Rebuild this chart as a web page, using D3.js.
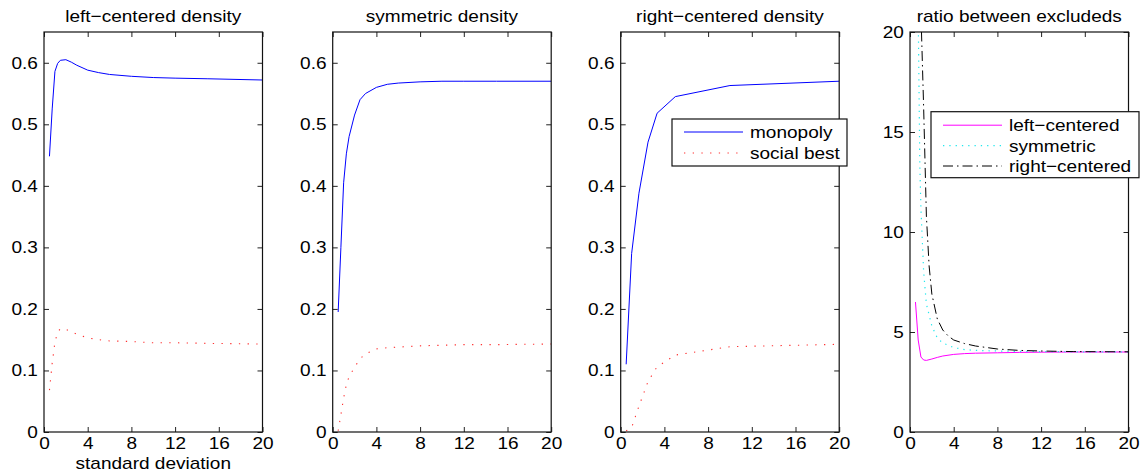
<!DOCTYPE html>
<html>
<head>
<meta charset="utf-8">
<script src="https://cdn.jsdelivr.net/npm/d3@7/dist/d3.min.js"></script>
<style>
	body { margin: 0; background: #fff; }
	text { font-family: "Liberation Sans", Arial, sans-serif; fill: #000; }
</style>
</head>
<body>
<svg id="main_svg"></svg>
<script>
const WIDTH = 1143;
const HEIGHT = 475;
const STRETCH = 1.12;
const FONT = 17;

// values
const panelTitles = ['left\u2212centered density', 'symmetric density', 'right\u2212centered density', 'ratio between excludeds'];
const xTicks = [0, 4, 8, 12, 16, 20];
const densityTicks = [0, 0.1, 0.2, 0.3, 0.4, 0.5, 0.6];
const ratioTicks = [0, 5, 10, 15, 20];

const xGrid = [0.5, 0.75, 1, 1.25, 1.5, 2, 2.5, 3, 4, 5, 6, 8, 10, 12, 15, 20];
const leftMonopoly = [0.448, 0.525, 0.586, 0.599, 0.604, 0.605, 0.601, 0.596, 0.588, 0.584, 0.581, 0.578, 0.576, 0.575, 0.574, 0.572];
const leftSocial = [0.068, 0.112, 0.146, 0.162, 0.168, 0.167, 0.163, 0.159, 0.153, 0.150, 0.148, 0.147, 0.145, 0.145, 0.144, 0.143];
const symMonopoly = [0.195, 0.300, 0.405, 0.452, 0.480, 0.515, 0.540, 0.550, 0.560, 0.565, 0.567, 0.569, 0.570, 0.570, 0.570, 0.570];
const symSocial = [0.002, 0.028, 0.055, 0.077, 0.090, 0.105, 0.119, 0.127, 0.135, 0.137, 0.138, 0.140, 0.141, 0.142, 0.142, 0.143];

const xRight = [0.5, 1, 1.67, 2.5, 3.33, 5, 10, 20];
const rightMonopoly = [0.110, 0.290, 0.388, 0.471, 0.518, 0.545, 0.563, 0.570];
const rightSocial = [0.002, 0.007, 0.042, 0.082, 0.106, 0.125, 0.1386, 0.1425];

const ratioLeft = [6.5, 4.6, 3.75, 3.6, 3.58, 3.65, 3.73, 3.8, 3.88, 3.92, 3.94, 3.96, 3.98, 3.99, 4.0, 4.0];
const xSym = [0.5, 0.75, 0.9, 1, 1.25, 1.5, 2, 2.5, 3, 4, 5, 6, 8, 10, 15, 20];
const ratioSym = [40, 21, 13.3, 11.2, 8.0, 6.4, 5.3, 4.7, 4.45, 4.22, 4.12, 4.08, 4.05, 4.03, 4.01, 4.0];
const xRightRatio = [0.5, 1, 1.25, 1.5, 1.75, 2, 2.5, 3, 3.5, 4, 5, 6, 8, 10, 12, 15, 20];
const ratioRight = [60, 21, 16.2, 10.8, 8.3, 6.9, 5.65, 5.1, 4.8, 4.6, 4.42, 4.3, 4.15, 4.08, 4.05, 4.02, 4.01];

const panelLefts = [44, 332.7, 620.7, 910];
const PANEL_W = 218.5;
const TOP = 32;
const BOTTOM = 432;

const STYLE = {
	monopoly: { color: '#0000ff', dash: null, width: 1 },
	social: { color: '#ff3030', dash: '1.3,7.4', width: 1.1 },
	left: { color: '#ff00ff', dash: null, width: 1 },
	sym: { color: '#22e8ee', dash: '1.3,5', width: 1.2 },
	right: { color: '#000000', dash: '10,4,1.5,4', width: 1 }
};

const zip = (xs, ys) => xs.map((x, i) => [x, ys[i]]);

const stretchText = sel => sel.attr('transform', `scale(${STRETCH},1)`);

const svg = d3.select('#main_svg').attr('width', WIDTH).attr('height', HEIGHT);

const plot_panel = (index, yMax, yTicks, yFormat, series) => {
	const left = panelLefts[index];
	const x_scale = d3.scaleLinear().domain([0, 20]).range([left, left + PANEL_W]);
	const y_scale = d3.scaleLinear().domain([0, yMax]).range([BOTTOM, TOP]);
	const g = svg.append('g');

	g.append('clipPath').attr('id', `clip${index}`)
		.append('rect')
		.attr('x', left).attr('y', TOP)
		.attr('width', PANEL_W).attr('height', BOTTOM - TOP);

	const line = d3.line()
		.x(d => x_scale(d[0]))
		.y(d => y_scale(d[1]));

	series.forEach(s => {
		g.append('path')
			.datum(s.data)
			.attr('clip-path', `url(#clip${index})`)
			.attr('fill', 'none')
			.attr('stroke', s.style.color)
			.attr('stroke-width', s.style.width)
			.attr('stroke-dasharray', s.style.dash)
			.attr('d', line);
	});

	// inward ticks on all four sides, MATLAB style
	const bottomAxis = g.append('g')
		.attr('transform', `translate(0,${BOTTOM})`)
		.call(d3.axisBottom(x_scale).tickValues(xTicks).tickSize(-5).tickPadding(5));
	const leftAxis = g.append('g')
		.attr('transform', `translate(${left},0)`)
		.call(d3.axisLeft(y_scale).tickValues(yTicks).tickFormat(yFormat).tickSize(-5).tickPadding(5.5));
	g.append('g')
		.attr('transform', `translate(0,${TOP})`)
		.call(d3.axisTop(x_scale).tickValues(xTicks).tickSize(-5).tickFormat(''));
	g.append('g')
		.attr('transform', `translate(${left + PANEL_W},0)`)
		.call(d3.axisRight(y_scale).tickValues(yTicks).tickSize(-5).tickFormat(''));

	g.selectAll('.domain').remove();
	g.selectAll('.tick line').attr('stroke', '#222');
	g.selectAll('.tick text')
		.attr('font-size', FONT)
		.attr('font-family', '"Liberation Sans", Arial, sans-serif')
		.attr('fill', '#111');
	bottomAxis.selectAll('text').call(stretchText);
	leftAxis.selectAll('text').call(stretchText);

	g.append('rect')
		.attr('x', left).attr('y', TOP)
		.attr('width', PANEL_W).attr('height', BOTTOM - TOP)
		.attr('fill', 'none')
		.attr('stroke', '#111')
		.attr('stroke-width', 1.2);

	g.append('text')
		.attr('text-anchor', 'middle')
		.attr('font-size', FONT)
		.attr('transform', `translate(${left + PANEL_W / 2},22) scale(${STRETCH},1)`)
		.text(panelTitles[index]);

	return { g, x_scale, y_scale };
};

const plot_legend = (g, x0, y0, w, h, rowStart, rowGap, entries) => {
	const lg = g.append('g');
	lg.append('rect')
		.attr('x', x0).attr('y', y0)
		.attr('width', w).attr('height', h)
		.attr('fill', '#fff')
		.attr('stroke', '#111')
		.attr('stroke-width', 1.2);
	entries.forEach((e, i) => {
		const y = y0 + rowStart + i * rowGap;
		lg.append('line')
			.attr('x1', x0 + 12).attr('x2', x0 + 71)
			.attr('y1', y).attr('y2', y)
			.attr('stroke', e.style.color)
			.attr('stroke-width', e.style.width)
			.attr('stroke-dasharray', e.style.dash);
		lg.append('text')
			.attr('font-size', FONT)
			.attr('transform', `translate(${x0 + 78},${y + 6}) scale(${STRETCH},1)`)
			.text(e.label);
	});
};

const densityFormat = d => d === 0 ? '0' : d.toFixed(1);

plot_panel(0, 0.65, densityTicks, densityFormat, [
	{ data: zip(xGrid, leftMonopoly), style: STYLE.monopoly },
	{ data: zip(xGrid, leftSocial), style: STYLE.social }
]);

plot_panel(1, 0.65, densityTicks, densityFormat, [
	{ data: zip(xGrid, symMonopoly), style: STYLE.monopoly },
	{ data: zip(xGrid, symSocial), style: STYLE.social }
]);

const p3 = plot_panel(2, 0.65, densityTicks, densityFormat, [
	{ data: zip(xRight, rightMonopoly), style: STYLE.monopoly },
	{ data: zip(xRight, rightSocial), style: STYLE.social }
]);
plot_legend(p3.g, 672, 119, 175, 47, 13, 21, [
	{ label: 'monopoly', style: STYLE.monopoly },
	{ label: 'social best', style: STYLE.social }
]);

const p4 = plot_panel(3, 20, ratioTicks, d => String(d), [
	{ data: zip(xGrid, ratioLeft), style: STYLE.left },
	{ data: zip(xSym, ratioSym), style: STYLE.sym },
	{ data: zip(xRightRatio, ratioRight), style: STYLE.right }
]);
plot_legend(p4.g, 931, 111.7, 208, 66, 13.5, 20.4, [
	{ label: 'left\u2212centered', style: STYLE.left },
	{ label: 'symmetric', style: STYLE.sym },
	{ label: 'right\u2212centered', style: STYLE.right }
]);

svg.append('text')
	.attr('text-anchor', 'middle')
	.attr('font-size', FONT)
	.attr('transform', `translate(${panelLefts[0] + PANEL_W / 2},468.5) scale(${STRETCH},1)`)
	.text('standard deviation');
</script>
</body>
</html>
